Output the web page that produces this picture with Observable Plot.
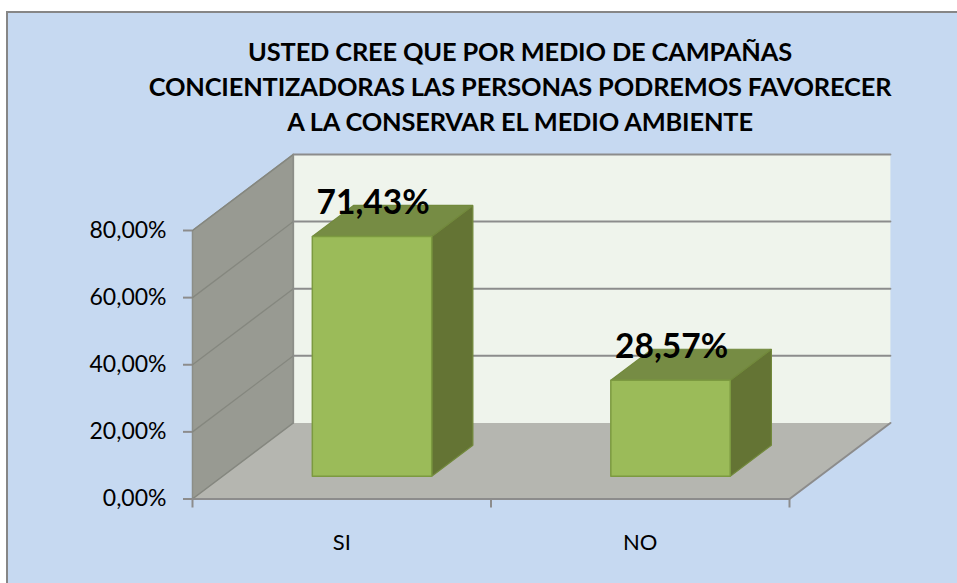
<!DOCTYPE html>
<html>
<head>
<meta charset="utf-8">
<script src="https://cdn.jsdelivr.net/npm/d3@7"></script>
<script src="https://cdn.jsdelivr.net/npm/@observablehq/plot@0.6"></script>
<style>
  html, body { margin: 0; padding: 0; background: #fff; }
  #page { position: relative; width: 957px; height: 583px; overflow: hidden; font-family: Lato, sans-serif; }
  #panel { position: absolute; left: 6px; top: 11px; right: -4px; bottom: -4px; background: #c6d9f1; border: 2.5px solid #868686; }
  #title { position: absolute; left: 93px; width: 854px; top: 34px; text-align: center; font-weight: 700; font-size: 25.4px; line-height: 35px; color: #000; letter-spacing: -0.15px; }
  #chart { position: absolute; left: 0; top: 0; }
  #chart svg { display: block; overflow: visible; }
</style>
</head>
<body>
<div id="page"><div id="panel"></div><div id="title"></div><div id="chart"></div></div>
<script>
const titleLines = [
  "USTED CREE QUE POR MEDIO DE CAMPAÑAS",
  "CONCIENTIZADORAS LAS PERSONAS PODREMOS FAVORECER",
  "A LA CONSERVAR EL MEDIO AMBIENTE"
];
const categories = ["SI", "NO"];
const values = [71.43, 28.57];
const labels = ["71,43%", "28,57%"];
const yTicks = [0, 20, 40, 60, 80];
const yMax = 80;
// oblique depth of the chart box, in data units
const depthX = 0.338;
const depthY = 22.66;
const barFront = 0.30, barBack = 0.708;
const barStart = 0.3, barEnd = 0.7;

const P = (x, y, d = 0) => ({x: x + d * depthX, y: y + d * depthY});
const xMax = categories.length;

function face(points, fill, stroke, strokeWidth = 1) {
  const closed = [...points, points[0]];
  return Plot.line(closed, {x: "x", y: "y", fill, stroke, strokeWidth, strokeLinejoin: "miter"});
}
function segment(points, stroke, strokeWidth) {
  return Plot.line(points, {x: "x", y: "y", stroke, strokeWidth});
}

const marks = [
  // walls and floor
  face([P(0, 0), P(0, yMax), P(0, yMax, 1), P(0, 0, 1)], "#989a92", "#8c8e88", 1.5),
  face([P(0, 0, 1), P(0, yMax, 1), P(xMax, yMax, 1), P(xMax, 0, 1)], "#eff4ec", "none"),
  face([P(0, 0), P(xMax, 0), P(xMax, 0, 1), P(0, 0, 1)], "#b5b6b0", "none"),
  // gridlines
  ...yTicks.filter(v => v > 0).flatMap(v => [
    segment([P(0, v), P(0, v, 1)], "#85877f", 1.3),
    segment([P(0, v, 1), P(xMax, v, 1)], "#8c8c8c", 2)
  ]),
  segment([P(0, 0), P(0, 0, 1)], "#85877f", 1.3),
  segment([P(0, 0, 1), P(0, yMax, 1)], "#8c8e88", 1.5),
  segment([P(0, 0), P(xMax, 0), P(xMax, 0, 1)], "#8c8c8c", 2),
  // bars
  ...values.flatMap((v, i) => {
    const x0 = i + barStart, x1 = i + barEnd;
    return [
      face([P(x1, 0, barFront), P(x1, v, barFront), P(x1, v, barBack), P(x1, 0, barBack)], "#647434", "#72893c", 1.2),
      face([P(x0, v, barFront), P(x1, v, barFront), P(x1, v, barBack), P(x0, v, barBack)], "#768c44", "#72893c", 1.2),
      face([P(x0, 0, barFront), P(x1, 0, barFront), P(x1, v, barFront), P(x0, v, barFront)], "#9bbb59", "#7c9a40", 1.5)
    ];
  }),
  // axes
  Plot.axisY({ticks: yTicks, tickSize: 9, tickPadding: 17, stroke: "#8c8c8c", strokeWidth: 2, tickFormat: d => d.toFixed(2).replace(".", ",") + "%", fontSize: 23, fill: "#000", label: null}),
  Plot.axisX({ticks: d3.range(xMax + 1), tickSize: 9, stroke: "#8c8c8c", strokeWidth: 2, tickFormat: () => "", label: null}),
  Plot.axisX({ticks: categories.map((c, i) => i + 0.5), tickSize: 0, tickPadding: 35, tickFormat: d => categories[Math.floor(d)], fontSize: 22, fill: "#000", label: null}),
  // data labels
  Plot.text(values, {
    x: (v, i) => i + 0.605,
    y: v => v,
    text: (v, i) => labels[i],
    dy: -56,
    fontSize: 33.5,
    fontWeight: 700,
    fill: "#000",
    textAnchor: "middle"
  })
];

const plot = Plot.plot({
  width: 957,
  height: 583,
  marginLeft: 192,
  marginRight: 168,
  marginTop: 230,
  marginBottom: 84.5,
  style: {background: "transparent", fontFamily: "Lato, sans-serif", overflow: "visible"},
  x: {type: "linear", domain: [0, xMax], axis: null},
  y: {domain: [0, yMax], axis: null},
  marks
});
document.getElementById("chart").appendChild(plot);
document.getElementById("title").innerHTML = titleLines.join("<br>");
</script>
</body>
</html>
